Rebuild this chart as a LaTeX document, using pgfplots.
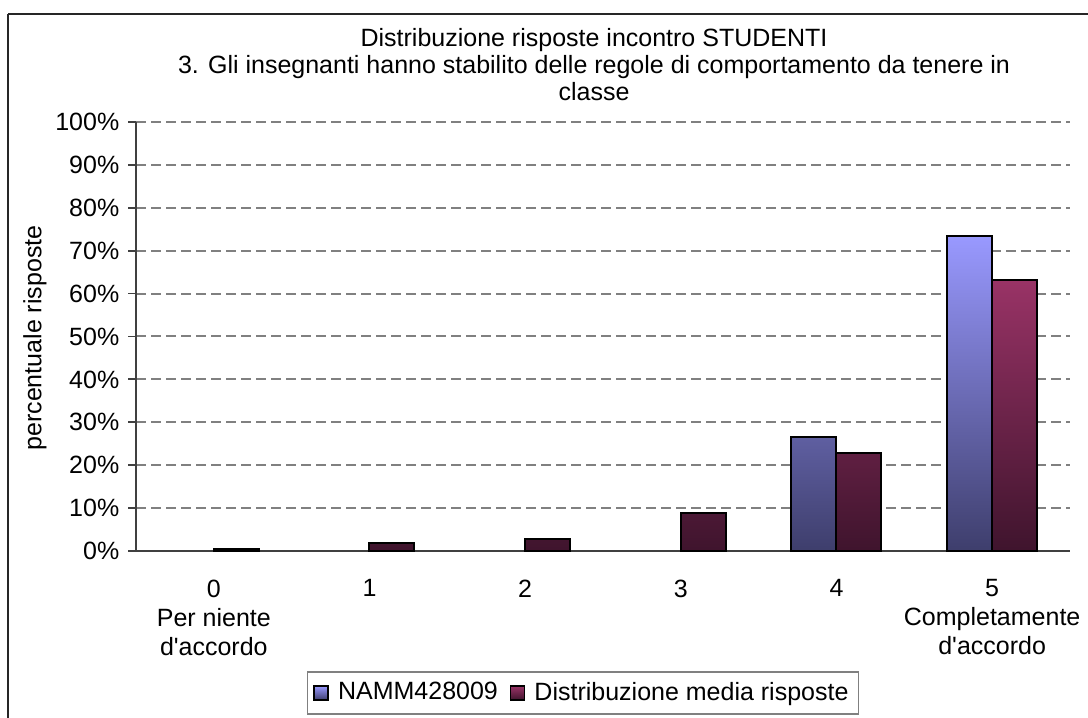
\documentclass[border=0pt]{standalone}
\usepackage{pgfplots}
\pgfplotsset{compat=1.18}
\usepackage{fontspec}
\setmainfont{Liberation Sans}
\definecolor{bluetop}{HTML}{9999FF}
\definecolor{bluebot}{HTML}{3E3E6C}
\definecolor{redtop}{HTML}{993366}
\definecolor{redbot}{HTML}{3F142D}
\definecolor{axisgray}{HTML}{404040}
\definecolor{gridgray}{HTML}{808080}
\begin{document}
\fontsize{12.5}{14.5}\selectfont
\begin{tikzpicture}
\useasboundingbox (0pt,0pt) rectangle (544pt,359pt);
\clip (0pt,0pt) rectangle (544pt,359pt);
\draw[line width=1pt, black!85] (4pt,352pt) -- (4pt,-5pt);
\draw[line width=1pt, black!85] (4pt,352pt) -- (550pt,352pt);
\node[align=center, font=\fontsize{12.5}{13.5}\selectfont] at (297pt,326.5pt) {Distribuzione risposte incontro STUDENTI\\3. Gli insegnanti hanno stabilito delle regole di comportamento da tenere in\\classe};
\node[rotate=90] at (17.5pt,190pt) {percentuale risposte};
\begin{axis}[
  at={(68pt,83.5pt)}, anchor=south west,
  scale only axis, width=467pt, height=214.5pt,
  xmin=-0.5, xmax=5.5, ymin=0, ymax=100,
  ybar=0pt, bar width=22.5pt,
  axis x line*=bottom, axis y line*=left,
  axis line style={axisgray, line width=0.9pt},
  every tick/.style={axisgray, line width=0.9pt},
  tick align=outside,
  major tick length=4pt,
  xtick={0,...,5},
  xticklabels={{0\\Per niente\\d\textquotesingle accordo},1,2,3,4,{5\\Completamente\\d\textquotesingle accordo}},
  xticklabel style={align=center, text depth=0pt, yshift=-6pt},
  x tick style={draw=none},
  minor xtick={-0.5,0.5,...,5.5},
  minor tick length=4pt,
  minor x tick style={axisgray, line width=0.9pt},
  ytick={0,10,...,100},
  yticklabel={\pgfmathprintnumber{\tick}\%},
  /pgf/number format/assume math mode=true,
  ymajorgrids, grid style={gridgray, dash pattern=on 5pt off 2.5pt, line width=1pt},
  legend style={at={(0.4786,-0.331)}, anchor=center, draw=gridgray, line width=0.6pt,
    legend columns=2, font=\fontsize{12.5}{14}\selectfont,
    /tikz/every odd column/.append style={column sep=2.5pt},
    /tikz/every even column/.append style={column sep=4pt},
    inner xsep=3pt, inner ysep=3pt},
  legend image code/.code={\draw[#1, line width=0.8pt] (0pt,-3.5pt) rectangle (7pt,3.5pt);},
]
\addplot[draw=black, line width=1pt, top color=bluetop, bottom color=bluebot] coordinates {(4,26.5) (5,73.5)};
\addplot[draw=black, line width=1pt, top color=redtop, bottom color=redbot] coordinates {(0,0.5) (1,1.9) (2,2.8) (3,8.8) (4,22.8) (5,63.2)};
\legend{NAMM428009, Distribuzione media risposte}
\end{axis}
\end{tikzpicture}
\end{document}
